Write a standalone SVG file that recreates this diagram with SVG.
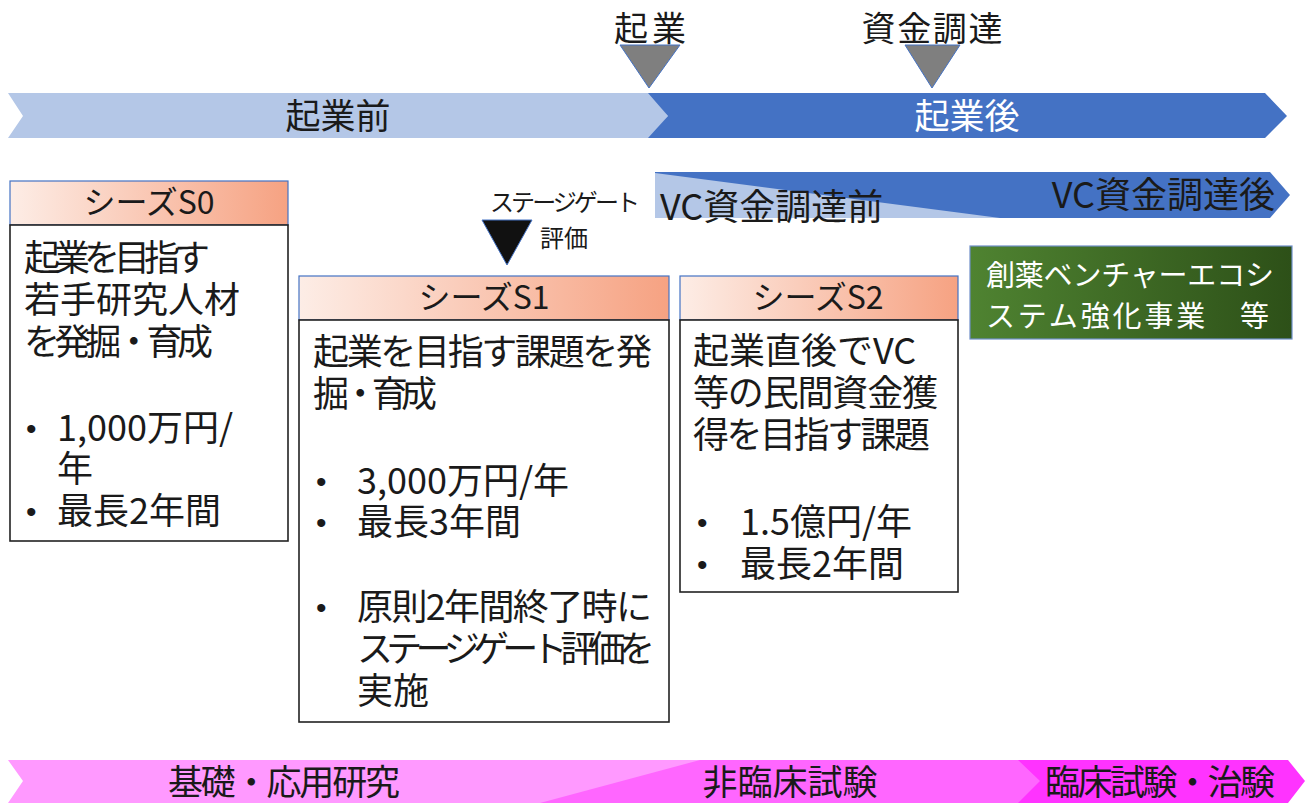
<svg xmlns="http://www.w3.org/2000/svg" width="1312" height="805" viewBox="0 0 1312 805">
<defs>
<style>
text{font-family:"Noto Sans CJK JP","Noto Sans",sans-serif;fill:#1a1a1a}
.hdr{font-size:32px;text-anchor:middle}
.body{font-size:36px}
.bul{font-family:"Liberation Sans",Arial,sans-serif;font-size:30px}
.band{font-size:35px;text-anchor:middle}
.ms{font-size:34px;text-anchor:middle}
.hbox{stroke:#4472C4;stroke-width:1.2}
.bbox{fill:#fff;stroke:#222;stroke-width:1.6}
.tri{fill:#7F7F7F;stroke:#4472C4;stroke-width:1}
</style>
<linearGradient id="hg" x1="0" y1="0" x2="1" y2="0">
<stop offset="0" stop-color="#FDEDE6"/>
<stop offset="1" stop-color="#F6A282"/>
</linearGradient>
<linearGradient id="gg" x1="0" y1="0" x2="1" y2="0">
<stop offset="0" stop-color="#4F8331"/>
<stop offset="1" stop-color="#2D5018"/>
</linearGradient>
</defs>

<g id="band-top">
<polygon points="8,93 650,93 668,116 650,138 8,138 23,116" fill="#B4C7E7"/>
<polygon points="648,93 1265,93 1287,116 1265,138 648,138 668,116" fill="#4472C4"/>
<text class="band" x="338" y="129">起業前</text>
<text class="band" x="967" y="129" style="fill:#fff">起業後</text>
</g>

<g id="milestone-kigyo">
<polygon class="tri" points="620,45 680,45 649,88"/>
<text class="ms" x="650" y="41" textLength="72">起業</text>
</g>
<g id="milestone-shikin">
<polygon class="tri" points="905,45 960,45 932,88"/>
<text class="ms" x="932" y="41" textLength="141">資金調達</text>
</g>

<g id="band-vc">
<polygon points="655,172 1270,172 1290,195 1270,218 655,218" fill="#4472C4"/>
<polygon points="655,173 1000,218 655,218" fill="#B4C7E7"/>
<text x="660" y="220" style="font-size:36px">VC資金調達前</text>
<text x="1275" y="208" style="font-size:36px;text-anchor:end">VC資金調達後</text>
</g>

<g id="stage-gate">
<polygon points="482,220 532,220 507,265" fill="#111" stroke="#4472C4" stroke-width="1"/>
<text x="490" y="211" style="font-size:24px" textLength="150">ステージゲート</text>
<text x="540" y="247" style="font-size:24px">評価</text>
</g>

<g id="seeds-s0">
<rect class="hbox" x="10" y="181" width="278" height="44" fill="url(#hg)"/>
<text class="hdr" x="149" y="214">シーズS0</text>
<rect class="bbox" x="10" y="225" width="278" height="316"/>
<text class="body" x="24" y="271" textLength="186">起業を目指す</text>
<text class="body" x="24" y="313">若手研究人材</text>
<text class="body" x="24" y="355" textLength="189">を発掘・育成</text>
<text class="bul" x="26" y="439">•</text>
<text class="body" x="57" y="441">1,000万円/</text>
<text class="body" x="57" y="482">年</text>
<text class="bul" x="26" y="522">•</text>
<text class="body" x="57" y="524">最長2年間</text>
</g>

<g id="seeds-s1">
<rect class="hbox" x="299" y="276" width="370" height="44" fill="url(#hg)"/>
<text class="hdr" x="484" y="309">シーズS1</text>
<rect class="bbox" x="299" y="320" width="370" height="402"/>
<text class="body" x="313" y="365" textLength="339">起業を目指す課題を発</text>
<text class="body" x="313" y="407" textLength="124">掘・育成</text>
<text class="bul" x="316" y="492">•</text>
<text class="body" x="357" y="494">3,000万円/年</text>
<text class="bul" x="316" y="533">•</text>
<text class="body" x="357" y="535">最長3年間</text>
<text class="bul" x="316" y="618">•</text>
<text class="body" x="357" y="620" textLength="295">原則2年間終了時に</text>
<text class="body" x="357" y="662" textLength="298">ステージゲート評価を</text>
<text class="body" x="357" y="704">実施</text>
</g>

<g id="seeds-s2">
<rect class="hbox" x="680" y="276" width="278" height="44" fill="url(#hg)"/>
<text class="hdr" x="818" y="309">シーズS2</text>
<rect class="bbox" x="680" y="320" width="278" height="272"/>
<text class="body" x="693" y="364">起業直後でVC</text>
<text class="body" x="693" y="406" textLength="245">等の民間資金獲</text>
<text class="body" x="693" y="448" textLength="237">得を目指す課題</text>
<text class="bul" x="697" y="533">•</text>
<text class="body" x="740" y="535">1.5億円/年</text>
<text class="bul" x="697" y="575">•</text>
<text class="body" x="740" y="577">最長2年間</text>
</g>

<g id="ecosystem">
<rect x="970" y="246" width="322" height="93" fill="url(#gg)" stroke="#6F8FC8" stroke-width="1.2"/>
<text x="986" y="286" style="font-size:29px;fill:#fff" textLength="288">創薬ベンチャーエコシ</text>
<text x="986" y="327" style="font-size:29px;fill:#fff" textLength="283">ステム強化事業　等</text>
</g>

<g id="band-bottom">
<polygon points="8,760 1040,760 1040,803 8,803 23,781" fill="#FF99FF"/>
<polygon points="700,760 1040,760 1040,803 540,803" fill="#FF66FF"/>
<polygon points="1018,760 1288,760 1305,781 1288,803 1018,803 1040,781" fill="#FF33FF"/>
<text x="168" y="795" style="font-size:35px" textLength="232">基礎・応用研究</text>
<text class="band" x="790" y="795">非臨床試験</text>
<text x="1045" y="795" style="font-size:35px" textLength="230">臨床試験・治験</text>
</g>
</svg>
